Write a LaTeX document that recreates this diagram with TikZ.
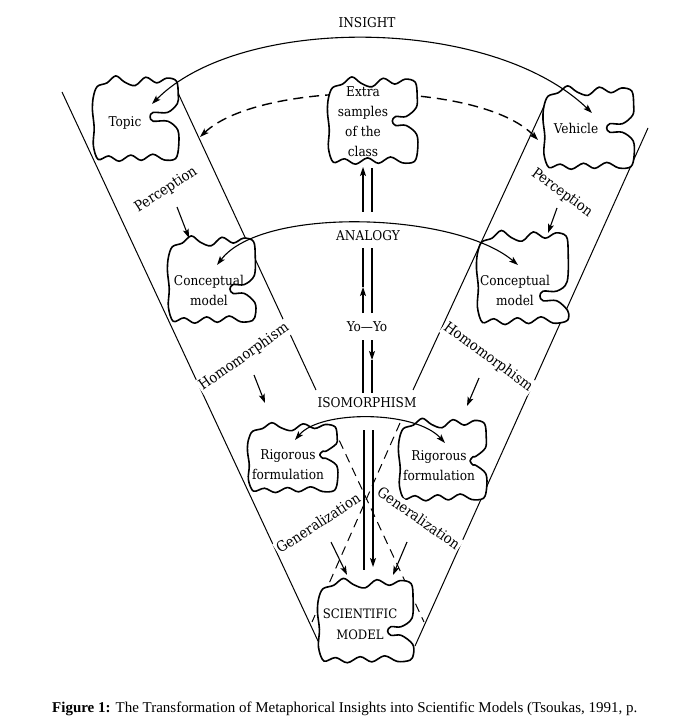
\documentclass[tikz,border=0pt]{standalone}
\usepackage{fontspec}
\setmainfont{DejaVu Serif Condensed}
\newfontfamily\capfont{Liberation Serif}
\usetikzlibrary{arrows.meta}
\newcommand\myblob[6]{%
\begin{scope}[shift={(#1,#2)},xscale=#3,yscale=#4]
\path[blobline] plot[smooth cycle,tension=0.55] coordinates {
(-0.88,-0.74) (-0.66,-0.82) (-0.46,-0.98) (-0.26,-0.84) (-0.02,-0.76) (0.22,-0.95) (0.47,-0.82) (0.7,-0.93) (0.92,-0.86)
(0.96,-0.55) (0.94,{#5-0.3})
(0.72,{#5-0.1}) ({#6+0.07},{#5-0.1}) (#6,#5) ({#6+0.07},{#5+0.1}) (0.72,{#5+0.1})
(0.95,{#5+0.3}) (0.97,{(#5+0.3+0.88)/2+0.05}) (0.9,0.9)
(0.64,0.93) (0.38,0.8) (0.12,0.94) (-0.12,0.82) (-0.38,0.96) (-0.62,0.84) (-0.86,0.92)
(-0.97,0.6) (-0.95,0.2) (-0.99,-0.2) (-0.97,-0.5)};
\end{scope}}
\tikzset{
 band/.style={line width=1pt},
 dashband/.style={line width=1pt, dash pattern=on 9pt off 6pt},
 blobline/.style={draw, line width=1.6pt, fill=white, line join=round},
 btext/.style={font=\fontsize{13.5}{20}\selectfont, align=center, inner sep=0pt},
 caps/.style={font=\fontsize{13.5}{16}\selectfont, inner sep=1.5pt, fill=white},
 rot/.style={font=\fontsize{14.5}{17}\selectfont, fill=white, inner sep=1.5pt},
 tip/.tip={Stealth[length=9pt,width=6pt,inset=2pt]},
 arr/.style={line width=1.1pt, -tip},
 darr/.style={line width=1.1pt, tip-tip},
 vline/.style={line width=1.1pt},
}
\begin{document}
\begin{tikzpicture}[x=1pt,y=-1pt]
\useasboundingbox (0,0) rectangle (690,727);
% band lines
\coordinate (LOa) at (62,92);   \coordinate (LOb) at (318,641);
\coordinate (LIa) at (172,80);  \coordinate (LIb) at (316,390);
\coordinate (LDa) at (333,427); \coordinate (LDb) at (424,622);
\coordinate (ROa) at (648,128); \coordinate (ROb) at (415,646);
\coordinate (RIa) at (545,104); \coordinate (RIb) at (413,390);
\coordinate (RDa) at (400,423); \coordinate (RDb) at (312,622);
\draw[band] (LOa) -- (LOb);
\draw[band] (LIa) -- (LIb);
\draw[band] (ROa) -- (ROb);
\draw[band] (RIa) -- (RIb);
\draw[dashband] (LDa) -- (LDb);
\draw[dashband] (RDa) -- (RDb);
% dashed insight arc (behind extra samples)
\coordinate (dL) at (200,137); \coordinate (dR) at (538,140);
\draw[line width=1.4pt, dash pattern=on 10pt off 6pt, tip-tip] (dL) .. controls (260,80) and (480,80) .. (dR);
% blobs
\myblob{136}{119}{44}{44}{-0.05}{0.32}
\myblob{373}{121}{46}{45}{0}{0.42}
\myblob{589}{128}{46.5}{43}{0}{0.38}
\myblob{212}{280}{45}{45}{0.2}{0.4}
\myblob{523}{278}{47}{48.5}{0.37}{0.36}
\myblob{293}{458}{46}{36}{-0.09}{0.58}
\myblob{443}{460}{45}{42.5}{0.02}{0.6}
\myblob{366}{621}{49}{43.5}{0.23}{0.44}
% blob texts
\node[btext] (topic) at (125,123) {Topic};
\node[btext] (extra) at (363,122) {Extra\\samples\\of the\\class};
\node[btext] (vehicle) at (576,128) {Vehicle};
\node[btext] (concL) at (209,290) {Conceptual\\model};
\node[btext] (concR) at (515,290) {Conceptual\\model};
\node[btext] (rigL) at (288,465) {Rigorous\\formulation};
\node[btext] (rigR) at (439,466) {Rigorous\\formulation};
\node[btext, font=\fontsize{13}{21}\selectfont] (sci) at (360,624) {SCIENTIFIC\\MODEL};
% labels
\node[caps] (insight) at (367,23) {INSIGHT};
\node[caps] (analogy) at (368,236) {ANALOGY};
\node[caps] (yoyo) at (367,327) {Yo—Yo};
\node[caps] (iso) at (367,403) {ISOMORPHISM};
\node[rot, rotate=33] (percL) at (166,190) {Perception};
\node[rot, rotate=-36] (percR) at (562,193) {Perception};
\node[rot, rotate=35] (homL) at (244,357) {Homomorphism};
\node[rot, rotate=-36] (homR) at (488,357) {Homomorphism};
\node[rot, rotate=33] (genL) at (318,523) {Generalization};
\node[rot, rotate=-35] (genR) at (419,518) {Generalization};
% arcs
\coordinate (topicIn) at (152,104); \coordinate (vehIn) at (592,113);
\draw[darr] (topicIn) .. controls (240,15) and (490,15) .. (vehIn);
\coordinate (concLIn) at (217,265); \coordinate (concRIn) at (518,265);
\draw[darr] (concLIn) .. controls (262,206) and (455,212) .. (concRIn);
\coordinate (rigLIn) at (295,440); \coordinate (rigRIn) at (445,443);
\draw[darr] (rigLIn) .. controls (320,410) and (415,410) .. (rigRIn);
% short arrows
\coordinate (pa1) at (177,207); \coordinate (pa2) at (189,238);
\draw[arr] (pa1) -- (pa2);
\coordinate (pb1) at (557,208); \coordinate (pb2) at (548,233);
\draw[arr] (pb1) -- (pb2);
\coordinate (ha1) at (254,375); \coordinate (ha2) at (265,403);
\draw[arr] (ha1) -- (ha2);
\coordinate (hb1) at (479,378); \coordinate (hb2) at (467,406);
\draw[arr] (hb1) -- (hb2);
\coordinate (ga1) at (331,542); \coordinate (ga2) at (347,575);
\draw[arr] (ga1) -- (ga2);
\coordinate (gb1) at (407,542); \coordinate (gb2) at (393,575);
\draw[arr] (gb1) -- (gb2);
% central double lines
\coordinate (c1a) at (363,212); \coordinate (c1b) at (363,167);
\coordinate (c1c) at (372,212); \coordinate (c1d) at (372,168);
\draw[arr] (c1a) -- (c1b);
\draw[vline] (c1c) -- (c1d);
\coordinate (c2a) at (363,313); \coordinate (c2m) at (363,287); \coordinate (c2b) at (363,248);
\coordinate (c2c) at (372,313); \coordinate (c2d) at (372,248);
\draw[arr] (c2a) -- (c2m);
\draw[vline] (c2m) -- (c2b);
\draw[vline] (c2c) -- (c2d);
\coordinate (c3a) at (363,340); \coordinate (c3b) at (363,393);
\coordinate (c3c) at (372,340); \coordinate (c3m) at (372,360); \coordinate (c3d) at (372,393);
\draw[vline] (c3a) -- (c3b);
\draw[arr] (c3c) -- (c3m);
\draw[vline] (c3m) -- (c3d);
\coordinate (c4a) at (364,430); \coordinate (c4b) at (364,570);
\coordinate (c4c) at (373,430); \coordinate (c4d) at (373,567);
\draw[vline] (c4a) -- (c4b);
\draw[arr] (c4c) -- (c4d);
% caption
\node[anchor=base west, inner sep=0pt] (caption) at (52,712) {\resizebox{585pt}{!}{\capfont\fontsize{13}{15}\selectfont\textbf{Figure 1:} The Transformation of Metaphorical Insights into Scientific Models (Tsoukas, 1991, p.}};
\end{tikzpicture}
\end{document}
